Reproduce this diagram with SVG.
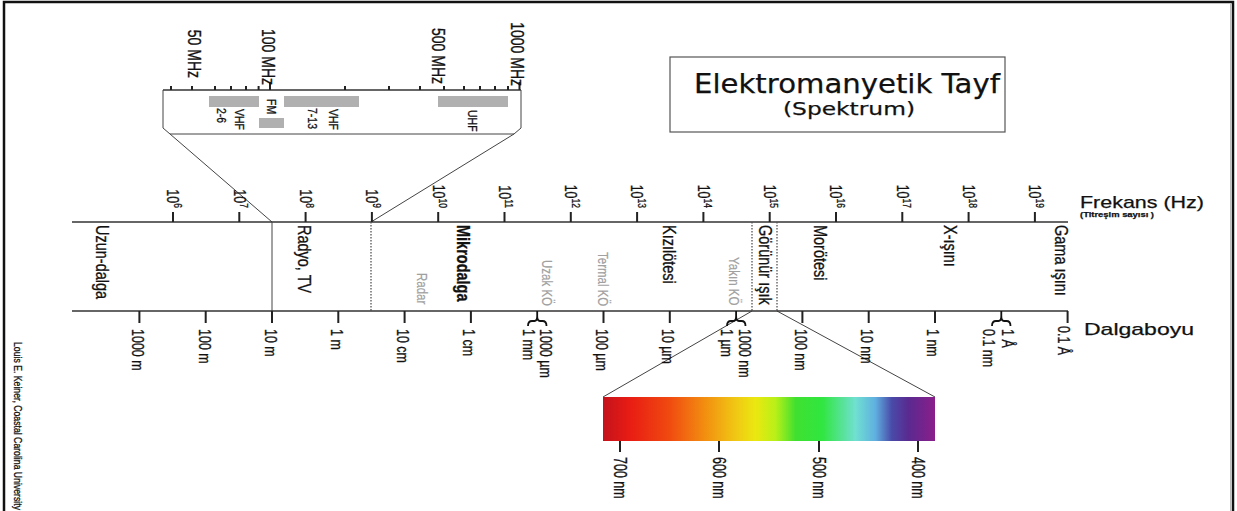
<svg xmlns="http://www.w3.org/2000/svg" width="1237" height="511" viewBox="0 0 1237 511">
<defs>
<linearGradient id="spec" x1="0" y1="0" x2="1" y2="0">
<stop offset="0" stop-color="#c4121c"/>
<stop offset="0.08" stop-color="#e81c14"/>
<stop offset="0.2" stop-color="#f04a10"/>
<stop offset="0.3" stop-color="#f28a10"/>
<stop offset="0.4" stop-color="#f0c814"/>
<stop offset="0.46" stop-color="#eae810"/>
<stop offset="0.52" stop-color="#b8f018"/>
<stop offset="0.58" stop-color="#40e030"/>
<stop offset="0.66" stop-color="#30e640"/>
<stop offset="0.76" stop-color="#70e0d0"/>
<stop offset="0.82" stop-color="#60b0e0"/>
<stop offset="0.87" stop-color="#4a4aa8"/>
<stop offset="0.92" stop-color="#5a2a90"/>
<stop offset="1" stop-color="#8a1e8a"/>
</linearGradient>
<style>
.ax{stroke:#333;stroke-width:1.5;fill:none}
.tk{stroke:#222;stroke-width:2;fill:none}
.thin{stroke:#444;stroke-width:1;fill:none}
.dot{stroke:#555;stroke-width:1.3;stroke-dasharray:1.5 1.5;fill:none}
.br{stroke:#111;stroke-width:1.8;fill:none}
text{font-family:"Liberation Sans",Arial,sans-serif;fill:#111;stroke:#111;stroke-width:0.25}
.r{dominant-baseline:central}
.band{font-size:14.5px}
.gray{fill:#a0a0a0;stroke:#a0a0a0;stroke-width:0.15;font-size:11.5px}
.wl{font-size:12.5px}
.fq{font-size:12.5px}
.ins{font-size:14px}
.sm{font-size:10.5px}
.dj{font-family:"DejaVu Sans",sans-serif}
</style>
</defs>
<rect x="0" y="0" width="1237" height="511" fill="#fff"/>
<rect x="4" y="2" width="1229" height="540" fill="none" stroke="#111" stroke-width="2.5"/>
<line x1="1230.5" y1="4" x2="1230.5" y2="511" stroke="#bbb" stroke-width="1"/>

<g id="title">
<rect x="670" y="57" width="335" height="75" fill="#fff" stroke="#555" stroke-width="1.2"/>
<text class="dj" x="847" y="93" text-anchor="middle" font-size="26" textLength="306" lengthAdjust="spacingAndGlyphs" stroke-width="0.5">Elektromanyetik Tayf</text>
<text class="dj" x="849" y="115" text-anchor="middle" font-size="18.5" textLength="132" lengthAdjust="spacingAndGlyphs" stroke-width="0.4">(Spektrum)</text>
</g>

<g id="credit">
<text class="r" transform="translate(18,342) scale(1.2,1) rotate(90)" font-size="8.7" fill="#333" stroke-width="0">Louis E. Keiner, Coastal Carolina University</text>
</g>

<g id="connectors">
<path class="thin" d="M170,134 L272,222"/>
<path class="thin" d="M514,134 L371,222"/>
<path class="thin" d="M752,311 L603,397"/>
<path class="thin" d="M777,311 L935,397"/>
</g>

<g id="inset">
<path class="ax" d="M163,90 H521"/>
<path class="thin" stroke-width="1.2" d="M163,90 V128 L170,134 H514 L521,128 V90"/>
<g class="tk" stroke-width="1.6">
<path d="M171,86V90M192,86V90M215,86V90M231,86V90M246,86V90M258.6,86V90M270,82V90M345,86V90M389,86V90M420,86V90M444,86V90M464,86V90M480,86V90M495,86V90M508,86V90M519.5,82V90"/>
</g>
<rect x="209" y="96" width="50" height="11" fill="#b0b0b0"/>
<rect x="259" y="118" width="25" height="10" fill="#b0b0b0"/>
<rect x="284" y="96" width="75" height="11" fill="#b0b0b0"/>
<rect x="438" y="96" width="70" height="11" fill="#b0b0b0"/>
<text class="r ins" text-anchor="end" transform="translate(194,78) scale(1.35,1) rotate(90)">50 MHz</text>
<text class="r ins" text-anchor="end" transform="translate(268,85) scale(1.35,1) rotate(90)">100 MHz</text>
<text class="r ins" text-anchor="end" transform="translate(438,84) scale(1.35,1) rotate(90)">500 MHz</text>
<text class="r ins" text-anchor="end" transform="translate(517,86) scale(1.35,1) rotate(90)">1000 MHz</text>
<text class="r sm" transform="translate(239,109) scale(1.3,1) rotate(90)">VHF</text>
<text class="r sm" transform="translate(221,108) scale(1.3,1) rotate(90)">2-6</text>
<text class="r sm" transform="translate(271,99) scale(1.3,1) rotate(90)">FM</text>
<text class="r sm" transform="translate(333,109) scale(1.3,1) rotate(90)">VHF</text>
<text class="r sm" transform="translate(312,108) scale(1.3,1) rotate(90)">7-13</text>
<text class="r sm" transform="translate(472,110) scale(1.3,1) rotate(90)">UHF</text>
</g>

<g id="frequency-axis">
<path class="ax" d="M72,222 H1068"/>
<path class="tk" d="M173,212V222M239.3,212V222M305.6,212V222M371.9,212V222M438.2,212V222M504.5,212V222M570.8,212V222M637.1,212V222M703.4,212V222M769.7,212V222M836,212V222M902.3,212V222M968.6,212V222M1034.9,212V222"/>
<text class="r fq" text-anchor="end" transform="translate(173,208) scale(1.3,1) rotate(90)">10<tspan dy="-4" font-size="8.5">6</tspan></text>
<text class="r fq" text-anchor="end" transform="translate(239.3,208) scale(1.3,1) rotate(90)">10<tspan dy="-4" font-size="8.5">7</tspan></text>
<text class="r fq" text-anchor="end" transform="translate(305.6,208) scale(1.3,1) rotate(90)">10<tspan dy="-4" font-size="8.5">8</tspan></text>
<text class="r fq" text-anchor="end" transform="translate(371.9,208) scale(1.3,1) rotate(90)">10<tspan dy="-4" font-size="8.5">9</tspan></text>
<text class="r fq" text-anchor="end" transform="translate(438.2,208) scale(1.3,1) rotate(90)">10<tspan dy="-4" font-size="8.5">10</tspan></text>
<text class="r fq" text-anchor="end" transform="translate(504.5,208) scale(1.3,1) rotate(90)">10<tspan dy="-4" font-size="8.5">11</tspan></text>
<text class="r fq" text-anchor="end" transform="translate(570.8,208) scale(1.3,1) rotate(90)">10<tspan dy="-4" font-size="8.5">12</tspan></text>
<text class="r fq" text-anchor="end" transform="translate(637.1,208) scale(1.3,1) rotate(90)">10<tspan dy="-4" font-size="8.5">13</tspan></text>
<text class="r fq" text-anchor="end" transform="translate(703.4,208) scale(1.3,1) rotate(90)">10<tspan dy="-4" font-size="8.5">14</tspan></text>
<text class="r fq" text-anchor="end" transform="translate(769.7,208) scale(1.3,1) rotate(90)">10<tspan dy="-4" font-size="8.5">15</tspan></text>
<text class="r fq" text-anchor="end" transform="translate(836,208) scale(1.3,1) rotate(90)">10<tspan dy="-4" font-size="8.5">16</tspan></text>
<text class="r fq" text-anchor="end" transform="translate(902.3,208) scale(1.3,1) rotate(90)">10<tspan dy="-4" font-size="8.5">17</tspan></text>
<text class="r fq" text-anchor="end" transform="translate(968.6,208) scale(1.3,1) rotate(90)">10<tspan dy="-4" font-size="8.5">18</tspan></text>
<text class="r fq" text-anchor="end" transform="translate(1034.9,208) scale(1.3,1) rotate(90)">10<tspan dy="-4" font-size="8.5">19</tspan></text>
<text x="1080" y="208" font-size="17" textLength="124" lengthAdjust="spacingAndGlyphs">Frekans (Hz)</text>
<text x="1080" y="217" font-size="7.5" font-weight="bold" fill="#555" stroke-width="0" textLength="74" lengthAdjust="spacingAndGlyphs">(Titreşim sayısı )</text>
</g>

<g id="bands">
<path class="thin" stroke="#333" stroke-width="1.3" d="M272,222V311"/>
<path class="dot" d="M371,222V311M752,222V311M777,222V311"/>
<text class="r band" transform="translate(102,225) scale(1.3,1) rotate(90)">Uzun-dalga</text>
<text class="r band" transform="translate(304,225) scale(1.3,1) rotate(90)">Radyo, TV</text>
<text class="r band" font-weight="bold" font-size="14" transform="translate(463,225) scale(1.3,1) rotate(90)">Mikrodalga</text>
<text class="r gray" transform="translate(422,273) scale(1.3,1) rotate(90)">Radar</text>
<text class="r gray" transform="translate(547,260) scale(1.3,1) rotate(90)">Uzak KÖ</text>
<text class="r gray" transform="translate(603,252) scale(1.3,1) rotate(90)">Termal KÖ</text>
<text class="r band" transform="translate(669,225) scale(1.3,1) rotate(90)">Kızılötesi</text>
<text class="r gray" transform="translate(734,257) scale(1.3,1) rotate(90)">Yakın KÖ</text>
<text class="r band" transform="translate(765,225) scale(1.3,1) rotate(90)">Görünür ışık</text>
<text class="r band" transform="translate(820,225) scale(1.3,1) rotate(90)">Morötesi</text>
<text class="r band" transform="translate(950,225) scale(1.3,1) rotate(90)">X-ışını</text>
<text class="r band" transform="translate(1061,225) scale(1.3,1) rotate(90)">Gama ışını</text>
</g>

<g id="wavelength-axis">
<path class="ax" d="M72,311 H1068"/>
<path class="tk" d="M139.4,311V323M205.7,311V323M272,311V323M338.3,311V323M404.6,311V323M470.9,311V323M603.5,311V323M669.8,311V323M802.4,311V323M868.7,311V323M935,311V323M1067.6,311V323"/>
<path class="br" d="M537.2,311V316 M528,326 Q528,321 532,321 L534.5,321 Q537.2,321 537.2,316 Q537.2,321 540,321 L542.5,321 Q546.5,321 546.5,326"/>
<path class="br" d="M736.1,311V316 M727,326 Q727,321 731,321 L733.5,321 Q736.1,321 736.1,316 Q736.1,321 739,321 L741.5,321 Q745.5,321 745.5,326"/>
<path class="br" d="M1001.3,311V316 M992,326 Q992,321 996,321 L998.5,321 Q1001.3,321 1001.3,316 Q1001.3,321 1004,321 L1006.5,321 Q1010.5,321 1010.5,326"/>
<text class="r wl" transform="translate(138,329) scale(1.35,1) rotate(90)">1000 m</text>
<text class="r wl" transform="translate(204.5,329) scale(1.35,1) rotate(90)">100 m</text>
<text class="r wl" transform="translate(270.5,329) scale(1.35,1) rotate(90)">10 m</text>
<text class="r wl" transform="translate(336.5,329) scale(1.35,1) rotate(90)">1 m</text>
<text class="r wl" transform="translate(402.5,329) scale(1.35,1) rotate(90)">10 cm</text>
<text class="r wl" transform="translate(469,329) scale(1.35,1) rotate(90)">1 cm</text>
<text class="r wl" transform="translate(529,329) scale(1.35,1) rotate(90)">1 mm</text>
<text class="r wl" transform="translate(546,329) scale(1.35,1) rotate(90)">1000 µm</text>
<text class="r wl" transform="translate(602,329) scale(1.35,1) rotate(90)">100 µm</text>
<text class="r wl" transform="translate(668,329) scale(1.35,1) rotate(90)">10 µm</text>
<text class="r wl" transform="translate(727,329) scale(1.35,1) rotate(90)">1 µm</text>
<text class="r wl" transform="translate(745,329) scale(1.35,1) rotate(90)">1000 nm</text>
<text class="r wl" transform="translate(801,329) scale(1.35,1) rotate(90)">100 nm</text>
<text class="r wl" transform="translate(867,329) scale(1.35,1) rotate(90)">10 nm</text>
<text class="r wl" transform="translate(933,329) scale(1.35,1) rotate(90)">1 nm</text>
<text class="r wl" transform="translate(989,329) scale(1.35,1) rotate(90)">0.1 nm</text>
<text class="r wl" transform="translate(1008,329) scale(1.35,1) rotate(90)">1 Å</text>
<text class="r wl" transform="translate(1064,326) scale(1.35,1) rotate(90)">0.1 Å</text>
<text x="1084" y="335" font-size="17" textLength="110" lengthAdjust="spacingAndGlyphs">Dalgaboyu</text>
</g>

<g id="visible-spectrum">
<rect x="603" y="397" width="332" height="44" fill="url(#spec)"/>
<path class="tk" stroke-width="2.2" d="M620,441V452M719,441V452M819,441V452M918,441V452"/>
<text class="r wl" transform="translate(620,457) scale(1.4,1) rotate(90)">700 nm</text>
<text class="r wl" transform="translate(719,457) scale(1.4,1) rotate(90)">600 nm</text>
<text class="r wl" transform="translate(819,457) scale(1.4,1) rotate(90)">500 nm</text>
<text class="r wl" transform="translate(918,457) scale(1.4,1) rotate(90)">400 nm</text>
</g>
</svg>
